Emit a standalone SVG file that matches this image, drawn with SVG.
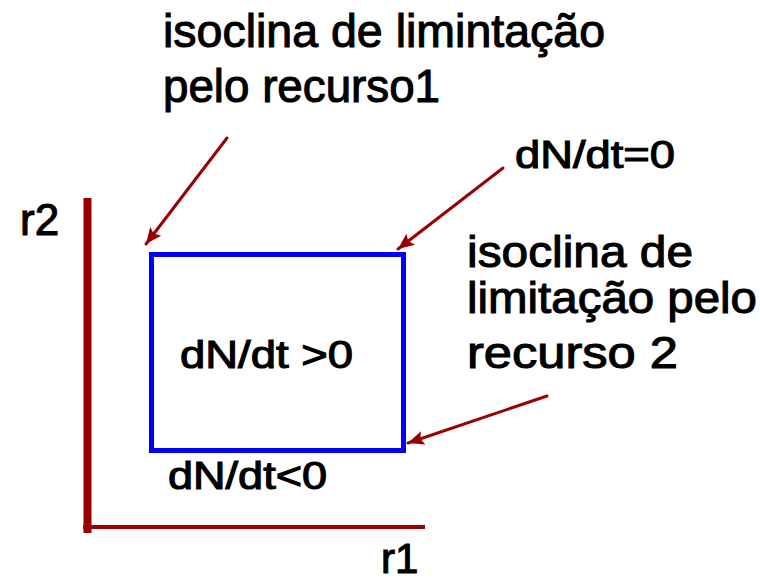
<svg xmlns="http://www.w3.org/2000/svg" width="760" height="582" viewBox="0 0 760 582">
<style>
text{font-family:"Liberation Sans",Arial,sans-serif;fill:#000;stroke:#000;stroke-width:1.1}
.conn{stroke:#990000;stroke-width:3;fill:none;stroke-linecap:round}
</style>
<defs>
<marker id="ah" markerUnits="userSpaceOnUse" markerWidth="20" markerHeight="16" refX="16" refY="7" orient="auto">
<path d="M0,0 L16,7 L0,14 L3,7 Z" fill="#990000"/>
</marker>
</defs>
<rect width="760" height="582" fill="#fff"/>
<g id="axes">
<line x1="87.5" y1="198" x2="87.5" y2="533" stroke="#990000" stroke-width="8"/>
<line x1="83" y1="527" x2="425" y2="527" stroke="#990000" stroke-width="4"/>
</g>
<g id="region">
<rect x="151.5" y="254.5" width="252" height="196" fill="none" stroke="#0000ff" stroke-width="5"/>
</g>
<g id="connectors">
<line class="conn" x1="227" y1="138" x2="146" y2="244" marker-end="url(#ah)"/>
<line class="conn" x1="503" y1="168" x2="398" y2="249" marker-end="url(#ah)"/>
<line class="conn" x1="547" y1="396" x2="408" y2="443" marker-end="url(#ah)"/>
</g>
<g id="title">
<text x="163" y="47" font-size="47" textLength="442" lengthAdjust="spacingAndGlyphs">isoclina de limintação</text>
<text x="163" y="102" font-size="47" textLength="277" lengthAdjust="spacingAndGlyphs">pelo recurso1</text>
</g>
<g id="label-zero">
<text x="515" y="168" font-size="38" textLength="160" lengthAdjust="spacingAndGlyphs">dN/dt=0</text>
</g>
<g id="label-r2iso">
<text x="467" y="267" font-size="45" textLength="226" lengthAdjust="spacingAndGlyphs">isoclina de</text>
<text x="467" y="313" font-size="45" textLength="290" lengthAdjust="spacingAndGlyphs">limitação pelo</text>
<text x="467" y="368" font-size="45" textLength="211" lengthAdjust="spacingAndGlyphs">recurso 2</text>
</g>
<g id="label-pos">
<text x="180" y="368" font-size="38" textLength="173" lengthAdjust="spacingAndGlyphs">dN/dt &gt;0</text>
</g>
<g id="label-neg">
<text x="168" y="489" font-size="38" textLength="159" lengthAdjust="spacingAndGlyphs">dN/dt&lt;0</text>
</g>
<g id="axis-labels">
<text x="20" y="235" font-size="44">r2</text>
<text x="381" y="573" font-size="42">r1</text>
</g>
</svg>
